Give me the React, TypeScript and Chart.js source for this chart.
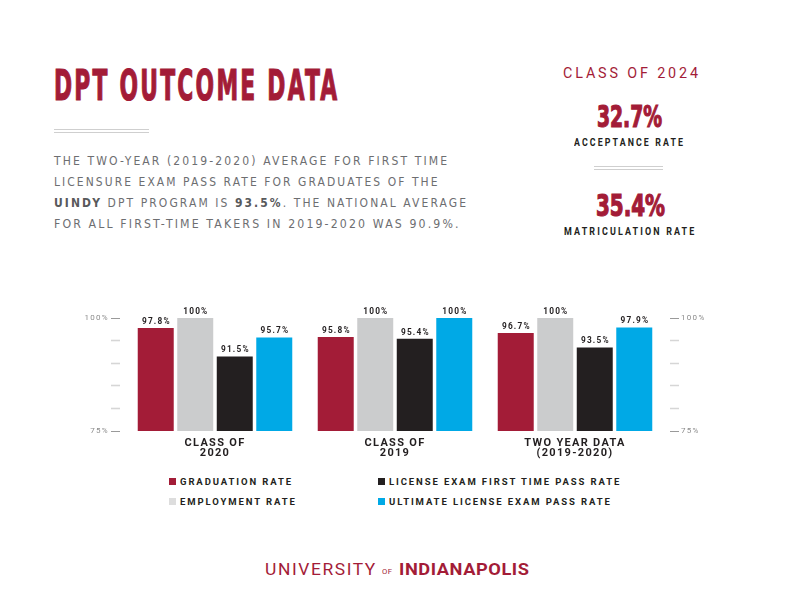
import React, { useEffect, useLayoutEffect, useRef } from 'react';
import { Chart, registerables } from 'chart.js';

Chart.register(...registerables);
Chart.defaults.font.family = 'Roboto';

// ---------- DATA ----------
const categories = [
  ['CLASS OF', '2020'],
  ['CLASS OF', '2019'],
  ['TWO YEAR DATA', '(2019-2020)'],
];
const seriesLabels = [
  'GRADUATION RATE',
  'EMPLOYMENT RATE',
  'LICENSE EXAM FIRST TIME PASS RATE',
  'ULTIMATE LICENSE EXAM PASS RATE',
];
const graduationRate = [97.8, 95.8, 96.7];
const employmentRate = [100, 100, 100];
const licenseFirstTimeRate = [91.5, 95.4, 93.5];
const ultimateLicenseRate = [95.7, 100, 97.9];
const seriesColors = ['#a31c37', '#cbcccd', '#231f20', '#00a9e6'];
const legendSwatchColors = ['#a31c37', '#dddddd', '#231f20', '#00a9e6'];
const yTickValues = [75, 80, 85, 90, 95, 100];
const yLabelledTicks = [75, 100];

// ---------- STYLE CONSTANTS ----------
const RED = '#a31c37';
const DARK = '#231f20';
const BODY_GREY = '#6d6e71';
const CONDENSED = "'DejaVu Sans Condensed', 'DejaVu Sans', sans-serif";

function FitText(props: any) {
  const { x, capTop, width, size, family = 'Roboto', weight = 400, color = DARK, spacing = 0, capOff = 0.13, stroke = 0, children } = props;
  const ref = useRef<HTMLSpanElement>(null);
  useLayoutEffect(() => {
    const fit = () => {
      const el = ref.current;
      if (!el) return;
      el.style.transform = 'none';
      const w = el.getBoundingClientRect().width - spacing;
      if (w > 0 && width) el.style.transform = `scaleX(${width / w})`;
    };
    fit();
    (document as any).fonts?.ready?.then(fit);
  }, []);
  return (
    <span
      ref={ref}
      style={{
        position: 'absolute',
        left: x,
        top: capTop - size * capOff,
        fontSize: size,
        lineHeight: `${size}px`,
        fontFamily: family,
        fontWeight: weight,
        color,
        letterSpacing: spacing,
        whiteSpace: 'nowrap',
        transformOrigin: 'left top',
        display: 'inline-block',
        WebkitTextStroke: stroke ? `${stroke}px ${color}` : undefined,
      } as any}
    >
      {children}
    </span>
  );
}

function DoubleRule({ x, y, w }: any) {
  return (
    <>
      <div style={{ position: 'absolute', left: x, top: y, width: w, height: 1, background: '#cfcfcf' }} />
      <div style={{ position: 'absolute', left: x, top: y + 3, width: w, height: 1, background: '#cfcfcf' }} />
    </>
  );
}

function fmtPct(v: number) {
  return (v === 100 ? '100' : v.toFixed(1)) + '%';
}

const spacingPlugin = {
  id: 'letterSpacing',
  beforeUpdate(chart: any) { chart.ctx.letterSpacing = '1.3px'; },
  beforeDraw(chart: any) { chart.ctx.letterSpacing = '1.3px'; },
};

const valueLabelPlugin = {
  id: 'valueLabels',
  afterDatasetsDraw(chart: any) {
    const ctx = chart.ctx;
    ctx.save();
    ctx.letterSpacing = '1.2px';
    ctx.font = 'bold 8.3px Roboto';
    ctx.fillStyle = DARK;
    ctx.textAlign = 'center';
    ctx.textBaseline = 'alphabetic';
    chart.data.datasets.forEach((ds: any, i: number) => {
      const meta = chart.getDatasetMeta(i);
      meta.data.forEach((el: any, j: number) => {
        ctx.fillText(fmtPct(ds.data[j]), el.x + 0.6, el.y - 4);
      });
    });
    ctx.restore();
  },
};

function yAxis(position: 'left' | 'right', width: number, dash: number[]) {
  return {
    position,
    min: 75,
    max: 100,
    afterBuildTicks: (s: any) => { s.ticks = yTickValues.map((v) => ({ value: v })); },
    ticks: {
      callback: (v: any) => (yLabelledTicks.includes(Number(v)) ? `${v}%` : ''),
      font: { size: 8, family: 'Roboto' },
      color: '#8c8c8c',
      padding: 2,
    },
    grid: {
      drawOnChartArea: false,
      tickLength: 14,
      tickBorderDash: dash,
      tickColor: (c: any) => (yLabelledTicks.includes(c.tick?.value) ? '#9a9a9a' : '#d6d6d6'),
      tickWidth: (c: any) => (yLabelledTicks.includes(c.tick?.value) ? 1 : 1.6),
    },
    border: { display: false },
    afterFit: (s: any) => { s.width = width; },
  };
}

function BarChart() {
  const ref = useRef<HTMLCanvasElement>(null);
  useEffect(() => {
    const seriesData = [graduationRate, employmentRate, licenseFirstTimeRate, ultimateLicenseRate];
    const chart = new Chart(ref.current as HTMLCanvasElement, {
      type: 'bar',
      data: {
        labels: categories as any,
        datasets: seriesLabels.map((label, i) => ({
          label,
          data: seriesData[i],
          backgroundColor: seriesColors[i],
          borderWidth: 0,
          categoryPercentage: 0.878,
          barPercentage: 0.911,
        })),
      },
      options: {
        animation: false,
        responsive: true,
        maintainAspectRatio: false,
        layout: { padding: { top: 48, left: 0, right: 0, bottom: 0 } },
        plugins: { legend: { display: false }, tooltip: { enabled: false } },
        scales: {
          x: {
            grid: { display: false, drawTicks: false },
            border: { display: false },
            ticks: {
              font: { family: 'Roboto', size: 11, weight: 'bold', lineHeight: 0.92 },
              color: DARK,
              padding: 7,
              maxRotation: 0,
              autoSkip: false,
            },
            afterFit: (s: any) => { s.height = 39; },
          },
          y: yAxis('left', 125, [9, 20]) as any,
          y2: yAxis('right', 127, [0, 5, 9, 100]) as any,
        },
      } as any,
      plugins: [spacingPlugin, valueLabelPlugin],
    });
    return () => chart.destroy();
  }, []);
  return (
    <div style={{ position: 'absolute', left: 0, top: 270, width: 792, height: 200 }}>
      <canvas ref={ref} />
    </div>
  );
}

function Legend() {
  const cols = [169, 378];
  const rows = [478, 498];
  const order = [0, 1, 2, 3];
  return (
    <>
      {order.map((i) => {
        const col = Math.floor(i / 2);
        const row = i % 2;
        const left = cols[col];
        const top = rows[row];
        return (
          <React.Fragment key={i}>
            <div style={{ position: 'absolute', left, top, width: 7, height: 7, background: legendSwatchColors[i] }} />
            <span
              style={{
                position: 'absolute',
                left: left + 11,
                top: top + 0.3 - 9.5 * 0.13,
                fontSize: 9.5,
                lineHeight: '9.5px',
                fontFamily: 'Roboto',
                fontWeight: 700,
                color: DARK,
                letterSpacing: 1.9,
                whiteSpace: 'nowrap',
              }}
            >
              {seriesLabels[i]}
            </span>
          </React.Fragment>
        );
      })}
    </>
  );
}

export default function App() {
  const bodyProps = { family: "'DejaVu Sans', sans-serif", size: 11.4, color: BODY_GREY, spacing: 2.2, capOff: 0.117, weight: 400 };
  const strong = { fontWeight: 700, color: '#58595b' };
  return (
    <div style={{ position: 'absolute', left: 0, top: 0, width: 792, height: 612, background: '#fff', overflow: 'hidden' }}>
      <FitText x={54} capTop={68.8} width={283} size={43} family={CONDENSED} weight={700} color={RED} capOff={0.117} stroke={1.2} spacing={4}>
        DPT OUTCOME DATA
      </FitText>
      <DoubleRule x={54} y={129} w={95} />

      <FitText x={54} capTop={157.3} width={393} {...bodyProps}>THE TWO-YEAR (2019-2020) AVERAGE FOR FIRST TIME</FitText>
      <FitText x={54} capTop={178.3} width={383.5} {...bodyProps}>LICENSURE EXAM PASS RATE FOR GRADUATES OF THE</FitText>
      <FitText x={54} capTop={199.3} width={412} {...bodyProps}>
        <span style={strong}>UINDY</span> DPT PROGRAM IS <span style={strong}>93.5%</span>. THE NATIONAL AVERAGE
      </FitText>
      <FitText x={54} capTop={220.7} width={404.5} {...bodyProps}>FOR ALL FIRST-TIME TAKERS IN 2019-2020 WAS 90.9%.</FitText>

      <FitText x={563.3} capTop={68.3} width={135} size={15} color={RED} spacing={3}>CLASS OF 2024</FitText>
      <FitText x={597.3} capTop={105.6} width={65} size={30} family={CONDENSED} weight={700} color={RED} capOff={0.117} stroke={1.2}>32.7%</FitText>
      <FitText x={574.3} capTop={139} width={109} size={10} weight={700} spacing={2.4}>ACCEPTANCE RATE</FitText>
      <DoubleRule x={594} y={166} w={69} />
      <FitText x={596} capTop={194.6} width={69} size={30} family={CONDENSED} weight={700} color={RED} capOff={0.117} stroke={1.2}>35.4%</FitText>
      <FitText x={564} capTop={228.6} width={130.3} size={10} weight={700} spacing={2.4}>MATRICULATION RATE</FitText>

      <BarChart />
      <Legend />

      <FitText x={265} capTop={564} width={110.3} size={16.5} weight={400} color={RED} spacing={1.5}>UNIVERSITY</FitText>
      <FitText x={381.7} capTop={569.5} width={10} size={8} weight={400} color={RED} spacing={0.5}>OF</FitText>
      <FitText x={399.3} capTop={564} width={130} size={16.5} weight={700} color={RED} spacing={0.5}>INDIANAPOLIS</FitText>
    </div>
  );
}
